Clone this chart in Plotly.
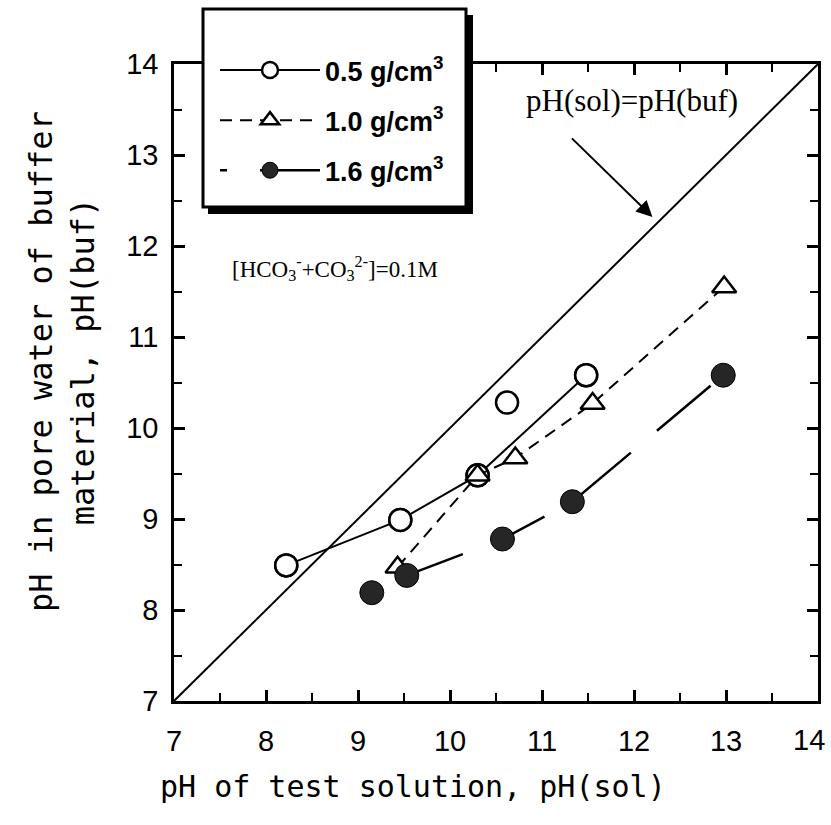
import plotly.graph_objects as go

# ---- data ----
x_05 = [8.22, 9.46, 10.30, 10.62, 11.48]
y_05 = [8.49, 8.99, 9.48, 10.28, 10.58]
line_x_05 = [8.22, 9.46, 10.30, 11.48]
line_y_05 = [8.49, 8.99, 9.48, 10.58]

x_10 = [9.43, 10.30, 10.71, 11.55, 12.98]
y_10 = [8.47, 9.48, 9.67, 10.27, 11.55]

x_16 = [9.15, 9.53, 10.57, 11.33, 12.97]
y_16 = [8.19, 8.38, 8.78, 9.19, 10.58]
line_x_16 = [9.53, 10.57, 11.33, 12.97]
line_y_16 = [8.38, 8.78, 9.19, 10.58]

diag = [7, 14]
tick_vals = [7, 8, 9, 10, 11, 12, 13, 14]
x_tick_text = ["7", "8", "9", "10", "11", "12", "13", ""]   # "14" placed below
y_tick_text = ["7", "8", "9", "10", "11", "12", "13", "14"]
last_x_label = "14"
names = ["0.5 g/cm<sup>3</sup>", "1.0 g/cm<sup>3</sup>", "1.6 g/cm<sup>3</sup>"]

W, H = 831, 825
L, R, T, B = 174, 13, 64, 124
pw, ph = W - L - R, H - T - B

def px(x):
    return (x - L) / pw

def py(y):
    return (H - B - y) / ph

fig = go.Figure()

# identity line
fig.add_trace(go.Scatter(x=diag, y=diag, mode="lines",
                         line=dict(color="black", width=2), showlegend=False,
                         hoverinfo="skip"))

open_circle = dict(symbol="circle", size=22, color="white",
                   line=dict(color="black", width=2.5))
open_tri = dict(symbol="triangle-up", size=21, color="white",
                line=dict(color="black", width=2.5))
full_circle = dict(symbol="circle", size=24, color="#262626",
                   line=dict(color="black", width=1))

# 0.5 g/cm3
fig.add_trace(go.Scatter(x=line_x_05, y=line_y_05, mode="lines+markers", name=names[0],
                         legendgroup="a", line=dict(color="black", width=2),
                         marker=open_circle))
fig.add_trace(go.Scatter(x=x_05, y=y_05, mode="markers", showlegend=False,
                         marker=open_circle))

# 1.0 g/cm3
fig.add_trace(go.Scatter(x=x_10, y=y_10, mode="lines+markers", name=names[1],
                         legendgroup="b",
                         line=dict(color="black", width=2, dash="12px,8px"),
                         marker=open_tri))

# 1.6 g/cm3 (broken long-dash line)
fig.add_trace(go.Scatter(x=line_x_16, y=line_y_16, mode="lines", showlegend=False,
                         line=dict(color="black", width=2.5,
                                   dash="60px,42px,48px,31px,77px,34px,70px")))
fig.add_trace(go.Scatter(x=x_16, y=y_16, mode="markers", name=names[2],
                         legendgroup="c", showlegend=False, marker=full_circle))
# legend sample for 1.6
fig.add_trace(go.Scatter(x=[None], y=[None], mode="lines+markers", name=names[2],
                         legendgroup="c",
                         line=dict(color="black", width=2.5, dash="7px,33px,100px"),
                         marker=full_circle))

# invisible trace bound to the mirror axes so they are drawn
fig.add_trace(go.Scatter(x=[None], y=[None], xaxis="x2", yaxis="y2",
                         showlegend=False, hoverinfo="skip"))

tick_style = dict(
    range=[7, 14], automargin=False,
    showgrid=False, zeroline=False,
    showline=True, linecolor="black", linewidth=2.5,
    ticks="inside", ticklen=11, tickwidth=2.5, tickcolor="black",
    minor=dict(dtick=0.5, tick0=7, ticks="inside", ticklen=8, tickwidth=2,
               tickcolor="black"),
)
label_font = dict(family="Liberation Sans", size=29, color="black")

fig.update_layout(
    xaxis=dict(**tick_style, tickmode="array", tickvals=tick_vals, ticktext=x_tick_text,
               tickfont=label_font, ticklabelstandoff=12, ticklabeloverflow="allow"),
    yaxis=dict(**tick_style, tickmode="array", tickvals=tick_vals, ticktext=y_tick_text,
               tickfont=label_font, ticklabelstandoff=7, ticklabeloverflow="allow"),
    xaxis2=dict(**tick_style, tickmode="array", tickvals=tick_vals, overlaying="x",
                side="top", anchor="y2", showticklabels=False),
    yaxis2=dict(**tick_style, tickmode="array", tickvals=tick_vals, overlaying="y",
                side="right", anchor="x2", showticklabels=False),
)

# legend box with shadow
shapes = [
    dict(type="rect", xref="paper", yref="paper",
         x0=px(208), x1=px(473), y0=py(214), y1=py(15),
         fillcolor="black", line=dict(width=0), layer="above"),
    dict(type="rect", xref="paper", yref="paper",
         x0=px(203), x1=px(466), y0=py(207), y1=py(9),
         fillcolor="white", line=dict(color="black", width=3), layer="above"),
]

annotations = [
    dict(text=last_x_label, x=px(827), y=py(740), xref="paper", yref="paper",
         showarrow=False, xanchor="right", yanchor="middle",
         font=label_font),
    dict(text="pH(sol)=pH(buf)", x=px(632), y=py(100), xref="paper", yref="paper",
         showarrow=False, xanchor="center", yanchor="middle",
         font=dict(family="Liberation Serif", size=31, color="black")),
    dict(text="", x=12.2, y=12.32, xref="x", yref="y", showarrow=True,
         ax=-82, ay=-80, arrowhead=2, arrowsize=1.6, arrowwidth=2, arrowcolor="black"),
    dict(text="[HCO<sub>3</sub><sup>-</sup>+CO<sub>3</sub><sup>2-</sup>]=0.1M",
         x=px(230), y=py(268), xref="paper", yref="paper",
         showarrow=False, xanchor="left", yanchor="middle",
         font=dict(family="Liberation Serif", size=23, color="black")),
    dict(text="pH of test solution, pH(sol)", x=px(413), y=py(786),
         xref="paper", yref="paper", showarrow=False,
         xanchor="center", yanchor="middle",
         font=dict(family="DejaVu Sans Mono", size=30, color="black")),
    dict(text="pH in pore water of buffer<br>material, pH(buf)", x=px(62), y=py(362),
         xref="paper", yref="paper", showarrow=False, textangle=-90,
         xanchor="center", yanchor="middle", align="center",
         font=dict(family="DejaVu Sans Mono", size=32, color="black")),
]

fig.update_layout(
    width=W, height=H, autosize=False,
    margin=dict(l=L, r=R, t=T, b=B, pad=0, autoexpand=False),
    paper_bgcolor="white", plot_bgcolor="white",
    shapes=shapes, annotations=annotations,
    legend=dict(x=px(215), y=py(46), xanchor="left", yanchor="top",
                bgcolor="rgba(0,0,0,0)", borderwidth=0,
                itemwidth=100, tracegroupgap=12, traceorder="grouped",
                font=dict(family="Liberation Sans", size=27, color="black",
                          weight="bold")),
)

fig.write_html("out.html")
